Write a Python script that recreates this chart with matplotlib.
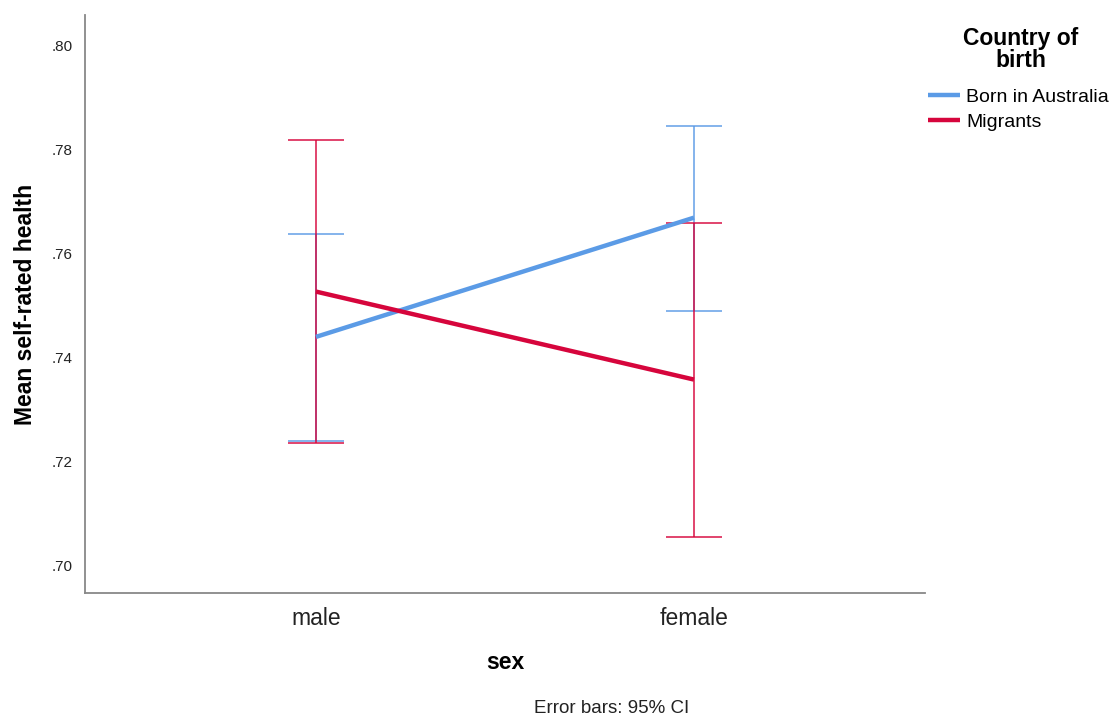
import numpy as np
import matplotlib.pyplot as plt

plt.rcParams['font.family'] = ['Liberation Sans', 'DejaVu Sans']

sexes = ['male', 'female']
groups = ['Born in Australia', 'Migrants']
colors = ['#5b9be6', '#d6053c']

# mean self-rated health with 95% CI bounds, per group
means = {
    'Born in Australia': [0.7440, 0.7669],
    'Migrants': [0.7527, 0.7358],
}
ci_low = {
    'Born in Australia': [0.7240, 0.7490],
    'Migrants': [0.7237, 0.7056],
}
ci_high = {
    'Born in Australia': [0.7638, 0.7846],
    'Migrants': [0.7818, 0.7659],
}

fig = plt.figure(figsize=(11.14, 7.17), dpi=100)
ax = fig.add_axes([0.0763, 0.1729, 0.754, 0.806])

x = np.arange(len(sexes))
handles = []
for g, c in zip(groups, colors):
    m = np.array(means[g])
    lo = m - np.array(ci_low[g])
    hi = np.array(ci_high[g]) - m
    ax.errorbar(x, m, yerr=[lo, hi], fmt='none', ecolor=c, elinewidth=1.4,
                capsize=20, capthick=1.4, alpha=0.75, zorder=2)
    h, = ax.plot(x, m, color=c, lw=3.2, solid_capstyle='butt', zorder=3, label=g)
    handles.append(h)

ax.set_xlim(-0.611, 1.611)
ax.set_ylim(0.6948, 0.8058)
ax.set_xticks(x)
ax.set_xticklabels(sexes, fontsize=16.5, color='#222222')
ax.set_yticks([0.70, 0.72, 0.74, 0.76, 0.78, 0.80])
ax.set_yticklabels(['.70', '.72', '.74', '.76', '.78', '.80'], fontsize=11, color='#222222')
ax.tick_params(axis='y', length=0, pad=9)
ax.tick_params(axis='x', length=0, pad=10)

for side in ['top', 'right']:
    ax.spines[side].set_visible(False)
for side in ['left', 'bottom']:
    ax.spines[side].set_color('#888888')
    ax.spines[side].set_linewidth(1.3)

ax.set_xlabel('sex', fontsize=16.5, fontweight='bold', labelpad=15)
ax.set_ylabel('Mean self-rated health', fontsize=16.5, fontweight='bold', labelpad=10)

fig.text(0.549, 0.0, 'Error bars: 95% CI', ha='center', va='bottom', fontsize=13.5, color='#222222')

# legend title drawn separately so it can sit centred above the entries
fig.text(0.916, 0.9, 'Country of\nbirth', ha='center', va='bottom', fontsize=16.5,
         fontweight='bold', linespacing=0.95)
fig.legend(handles=handles, labels=groups, loc='upper left',
           bbox_to_anchor=(0.833, 0.877), frameon=False, fontsize=14,
           handlelength=1.65, handletextpad=0.3, labelspacing=0.4,
           borderpad=0, borderaxespad=0)

plt.savefig('out.png', dpi=100)
